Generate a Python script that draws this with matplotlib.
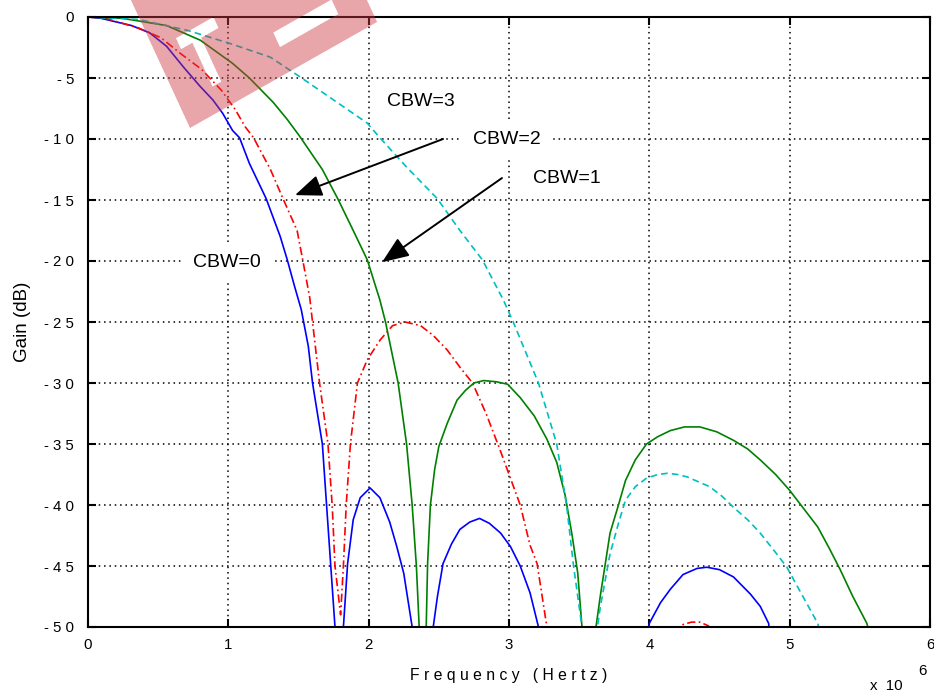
import numpy as np
import matplotlib
matplotlib.use('Agg')
import matplotlib.pyplot as plt

plt.rcParams['font.family'] = ['Liberation Sans', 'DejaVu Sans']

# frequency in units of 1e6 Hz, gain in dB
cbw0_x = [0, 0.09, 0.31, 0.44, 0.56, 0.68, 0.80, 0.89, 0.96, 1.03, 1.08, 1.15, 1.27, 1.37, 1.42, 1.47, 1.52,
          1.57, 1.60, 1.67, 1.70, 1.73, 1.76, 1.79,
          1.82, 1.85, 1.89, 1.94, 2.01, 2.08, 2.15, 2.20, 2.25, 2.31, 2.38,
          2.46, 2.49, 2.53, 2.59, 2.65, 2.72, 2.79, 2.86, 2.94, 3.01, 3.08, 3.15, 3.21, 3.6,
          4.0, 4.08, 4.15, 4.24, 4.34, 4.41, 4.50, 4.60, 4.72, 4.79, 4.85, 4.9]
cbw0_y = [0, -0.1, -0.7, -1.3, -2.4, -4.1, -5.7, -6.8, -7.9, -9.3, -9.9, -12.0, -14.9, -18.0, -19.9, -22.0, -24.0,
          -27.0, -30.0, -35.0, -40.0, -45.0, -50.0, -60,
          -50.0, -44.8, -41.2, -39.4, -38.6, -39.4, -41.4, -43.4, -45.6, -50.0, -60,
          -50.0, -47.5, -44.8, -43.2, -42.0, -41.4, -41.1, -41.5, -42.3, -43.4, -45.0, -47.2, -50.0, -70,
          -49.7, -48.0, -46.9, -45.7, -45.2, -45.1, -45.3, -45.9, -47.3, -48.3, -49.7, -55]

cbw1_x = [0, 0.12, 0.36, 0.52, 0.66, 0.81, 0.95, 1.05, 1.12, 1.18, 1.30, 1.39, 1.49, 1.53, 1.58, 1.60,
          1.65, 1.71, 1.74, 1.76, 1.80, 1.82, 1.84, 1.87, 1.92, 1.99, 2.08, 2.17, 2.26, 2.37, 2.46,
          2.56, 2.65, 2.74, 2.84, 2.94, 3.01, 3.08, 3.15, 3.20, 3.27, 3.30, 3.8,
          4.20, 4.24, 4.30, 4.36, 4.42, 4.46]
cbw1_y = [0, -0.1, -0.9, -1.7, -3.0, -4.3, -6.0, -7.6, -9.0, -9.9, -12.5, -14.9, -17.5, -19.9, -23.0, -25.0,
          -30.0, -35.0, -40.0, -45.0, -49.0, -45.0, -40.0, -35.0, -30.0, -28.1, -26.5, -25.3, -25.0, -25.3, -26.1,
          -27.3, -28.7, -30.0, -32.6, -35.6, -37.8, -40.0, -43.3, -44.8, -50.0, -55, -70,
          -50.5, -49.8, -49.6, -49.6, -49.9, -50.5]

cbw2_x = [0, 0.24, 0.56, 0.80, 1.03, 1.15, 1.32, 1.42, 1.51, 1.67, 1.78, 1.89, 1.99, 2.08, 2.12,
          2.21, 2.27, 2.31, 2.34, 2.36, 2.385,
          2.41, 2.42, 2.44, 2.47, 2.50, 2.56, 2.63, 2.69, 2.75, 2.82, 2.91, 2.99, 3.08, 3.18, 3.27, 3.34,
          3.40, 3.45, 3.49, 3.52, 3.57,
          3.62, 3.65, 3.72, 3.78, 3.83, 3.90, 3.98, 4.06, 4.15, 4.25, 4.36, 4.48, 4.60, 4.70, 4.79, 4.90,
          5.00, 5.10, 5.20, 5.28, 5.36, 5.45, 5.55, 5.6]
cbw2_y = [0, -0.1, -0.7, -1.9, -3.8, -5.0, -7.0, -8.4, -9.8, -12.5, -14.9, -17.5, -19.9, -23.2, -25.0,
          -30.0, -35.0, -40.0, -45.0, -50.0, -60,
          -50.0, -44.8, -40.0, -37.1, -35.2, -33.3, -31.4, -30.6, -30.0, -29.8, -29.9, -30.1, -31.2, -32.7, -34.6, -36.5,
          -39.2, -42.5, -45.6, -50.0, -60,
          -50.0, -47.5, -42.3, -40.0, -38.0, -36.3, -35.0, -34.4, -33.9, -33.6, -33.6, -34.0, -34.7, -35.4, -36.3, -37.5,
          -38.8, -40.3, -41.8, -43.5, -45.3, -47.5, -49.7, -52]

cbw3_x = [0, 0.36, 0.71, 1.02, 1.30, 1.51, 1.75, 1.99, 2.08, 2.27, 2.49, 2.65, 2.81, 2.96, 3.03,
          3.21, 3.34, 3.41, 3.46, 3.52, 3.575,
          3.63, 3.65, 3.72, 3.78, 3.83, 3.90, 3.98, 4.06, 4.13, 4.20, 4.27, 4.35, 4.43, 4.52, 4.60, 4.70,
          4.79, 4.88, 4.98, 5.08, 5.20, 5.25]
cbw3_y = [0, -0.2, -1.1, -2.2, -3.3, -4.9, -6.8, -8.7, -9.9, -12.3, -14.9, -17.5, -19.9, -23.2, -25.0,
          -30.0, -35.0, -40.0, -45.0, -50.0, -60,
          -50.0, -48.4, -44.0, -41.5, -39.6, -38.5, -37.8, -37.5, -37.4, -37.5, -37.7, -38.1, -38.5, -39.3, -40.2, -41.2,
          -42.3, -43.6, -45.1, -47.2, -49.7, -52]

x_ticks = [0, 1, 2, 3, 4, 5, 6]
y_ticks = [0, -5, -10, -15, -20, -25, -30, -35, -40, -45, -50]
y_ticklabels = ['0', '- 5', '- 1 0', '- 1 5', '- 2 0', '- 2 5', '- 3 0', '- 3 5', '- 4 0', '- 4 5', '- 5 0']

labels = ['CBW=3', 'CBW=2', 'CBW=1', 'CBW=0']
label_x = [2.13, 2.74, 3.17, 0.75]
label_y = [-6.9, -10.0, -13.2, -20.1]

W, H = 934, 699
fig = plt.figure(figsize=(W / 100, H / 100), dpi=100)
ax = fig.add_axes([88 / W, 1 - 627 / H, 842 / W, 610 / H])

ax.plot(cbw0_x, cbw0_y, color='#0000ff', lw=1.2, zorder=2)
ax.plot(cbw1_x, cbw1_y, color='#ff0000', lw=1.2, ls=(0, (5, 2, 1, 2)), zorder=2)
ax.plot(cbw2_x, cbw2_y, color='#008000', lw=1.2, zorder=2)
ax.plot(cbw3_x, cbw3_y, color='#00bfbf', lw=1.2, ls=(0, (4, 2.5)), zorder=2)

ax.set_xlim(0, 6)
ax.set_ylim(-50, 0)
ax.set_xticks(x_ticks)
ax.set_xticklabels([str(t) for t in x_ticks])
ax.set_yticks(y_ticks)
ax.set_yticklabels(y_ticklabels)
ax.set_axisbelow(True)
ax.grid(True, color='k', linestyle=(0, (1, 2.5)), linewidth=1.1)
ax.tick_params(direction='in', length=6, width=1.5, top=True, right=True, labelsize=10.8)
ax.tick_params(axis='y', pad=10)
ax.tick_params(axis='x', pad=8)
for s in ax.spines.values():
    s.set_linewidth(1.5)

ax.set_ylabel('Gain (dB)', fontsize=13.5, va='center')
ax.yaxis.set_label_coords(-0.078, 0.5)
ax.set_xlabel(' '.join('Frequency (Hertz)'), fontsize=11.3, va='center')
ax.xaxis.set_label_coords(0.5, -0.079)
fig.text(870 / W, 1 - 686 / H, 'x  10', fontsize=10.8, va='center', ha='left')
fig.text(918 / W, 1 - 671 / H, '6', fontsize=10.8, va='center', ha='left')

for t, lx, ly in zip(labels, label_x, label_y):
    ax.text(lx, ly, t, fontsize=14, va='center', ha='left', zorder=3,
            bbox=dict(boxstyle='square,pad=0.55', fc='white', ec='none'))

arrow = dict(arrowstyle='-|>,head_length=0.55,head_width=0.22', mutation_scale=30,
             color='k', lw=1.4, shrinkA=0, shrinkB=0)
ax.annotate('', xy=(1.475, -14.6), xytext=(2.53, -10.0), arrowprops=arrow, zorder=4)
ax.annotate('', xy=(2.095, -20.1), xytext=(2.95, -13.2), arrowprops=arrow, zorder=4)

# pink watermark in the top left corner, drawn as an image in pixel space
ss = 3
py, px = np.mgrid[0:140 * ss, 0:450 * ss]
dx = (px + 0.5) / ss - 190
dy = (py + 0.5) / ss - 128
bs = (0.91 * dx - 0.42 * dy) / 0.999
bt = -(0.870 * dy + 0.493 * dx)
mask = (bs >= 0) & (bs <= 215) & (bt >= 0)
mask &= ~((bs > 116) & (bs < 183) & (bt > 26) & (bt < 42))
mask &= ~((bs > 25) & (bs < 68) & (bt > 73) & (bt < 85))
mask &= ~((bs > 38) & (bs < 48) & (bt > 25) & (bt < 82))
cover = mask.reshape(140, ss, 450, ss).mean(axis=(1, 3))
wm = np.zeros((140, 450, 4))
wm[..., 0] = 206 / 255
wm[..., 1] = 57 / 255
wm[..., 2] = 66 / 255
wm[..., 3] = 0.45 * cover
fig.figimage(wm, xo=0, yo=H - 140, origin='upper', zorder=10)

plt.savefig('out.png', dpi=100)
